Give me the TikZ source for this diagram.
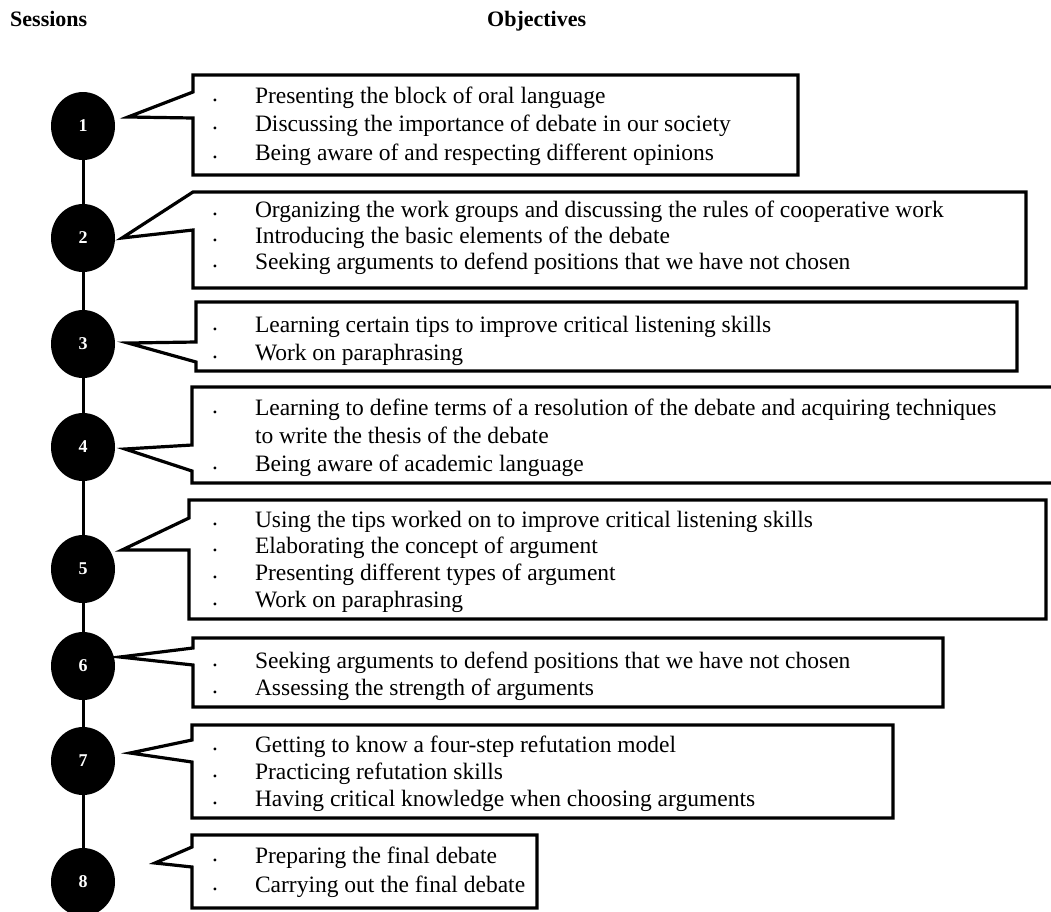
\documentclass[tikz,border=0pt]{standalone}
\usepackage{fontspec}
\setmainfont{Liberation Serif}
\usetikzlibrary{calc, shapes.geometric}

\newcommand{\objsize}[1]{\fontsize{23.5}{#1}\selectfont}
\newcommand{\bul}{\raisebox{2pt}{.}}

\begin{document}
\begin{tikzpicture}[
    x=1pt, y=-1pt,
    session/.style={ellipse, fill=black, minimum width=64pt, minimum height=68pt, inner sep=0pt,
                    text=white, font=\fontsize{18}{18}\selectfont\bfseries},
    objbox/.style={rectangle, anchor=north west, inner sep=0pt, outer sep=0pt},
    objtext/.style={anchor=base west, inner sep=0pt, outer sep=0pt},
    callout/.style={line width=3.2pt, line join=miter},
    link/.style={line width=3pt},
    header/.style={anchor=base west, inner sep=0pt, font=\fontsize{22}{22}\selectfont\bfseries}
]
\useasboundingbox (0,0) rectangle (1051,911);
\clip (0,0) rectangle (1051,911);

\node[header] (hs) at (10,26) {Sessions};
\node[header] (ho) at (487,26) {Objectives};

%% sessions
\node[session] (s1) at (83,126) {1};
\node[session] (s2) at (83,238) {2};
\node[session] (s3) at (83,344) {3};
\node[session] (s4) at (83,447) {4};
\node[session] (s5) at (83,569) {5};
\node[session] (s6) at (83,666) {6};
\node[session] (s7) at (83,761) {7};
\node[session] (s8) at (83,882) {8};
\draw[link] (s1) -- (s2);
\draw[link] (s2) -- (s3);
\draw[link] (s3) -- (s4);
\draw[link] (s4) -- (s5);
\draw[link] (s5) -- (s6);
\draw[link] (s6) -- (s7);
\draw[link] (s7) -- (s8);

%% objective boxes
\node[objbox, minimum width=605pt, minimum height=100pt] (b1) at (193,75) {};
\node[objbox, minimum width=833pt, minimum height=96pt] (b2) at (193,192) {};
\node[objbox, minimum width=821pt, minimum height=69pt] (b3) at (196,302) {};
\node[objbox, minimum width=880pt, minimum height=96pt] (b4) at (192,387) {};
\node[objbox, minimum width=857pt, minimum height=119pt] (b5) at (189,500) {};
\node[objbox, minimum width=750pt, minimum height=69pt] (b6) at (193,638) {};
\node[objbox, minimum width=701pt, minimum height=93pt] (b7) at (192,725) {};
\node[objbox, minimum width=345pt, minimum height=73pt] (b8) at (192,835) {};

\coordinate (p1) at (128,117);
\coordinate (p2) at (122,238);
\coordinate (p3) at (128,343);
\coordinate (p4) at (125,449);
\coordinate (p5) at (122,550);
\coordinate (p6) at (120,657);
\coordinate (p7) at (130,753);
\coordinate (p8) at (155,863);

\draw[callout] (b1.north west) -- (b1.north east) -- (b1.south east) -- (b1.south west)
    -- ($(b1.north west)+(0,43)$) -- (p1) -- ($(b1.north west)+(0,17)$) -- cycle;
\draw[callout] (b2.north west) -- (b2.north east) -- (b2.south east) -- (b2.south west)
    -- ($(b2.north west)+(0,38)$) -- (p2) -- cycle;
\draw[callout] (b3.north west) -- (b3.north east) -- (b3.south east) -- (b3.south west)
    -- ($(b3.north west)+(0,60)$) -- (p3) -- ($(b3.north west)+(0,40)$) -- cycle;
\draw[callout] (b4.north west) -- (b4.north east) -- (b4.south east) -- (b4.south west)
    -- ($(b4.north west)+(0,84)$) -- (p4) -- ($(b4.north west)+(0,58)$) -- cycle;
\draw[callout] (b5.north west) -- (b5.north east) -- (b5.south east) -- (b5.south west)
    -- ($(b5.north west)+(0,50)$) -- (p5) -- ($(b5.north west)+(0,18)$) -- cycle;
\draw[callout] (b6.north west) -- (b6.north east) -- (b6.south east) -- (b6.south west)
    -- ($(b6.north west)+(0,27)$) -- (p6) -- ($(b6.north west)+(0,10)$) -- cycle;
\draw[callout] (b7.north west) -- (b7.north east) -- (b7.south east) -- (b7.south west)
    -- ($(b7.north west)+(0,37)$) -- (p7) -- ($(b7.north west)+(0,15)$) -- cycle;
\draw[callout] (b8.north west) -- (b8.north east) -- (b8.south east) -- (b8.south west)
    -- ($(b8.north west)+(0,32)$) -- (p8) -- ($(b8.north west)+(0,12)$) -- cycle;

%% objectives text
\node[objtext, font=\objsize{28.5}] (t1) at (212,103) {\begin{tabular}[t]{@{}p{43pt}@{}l@{}}
    \bul & Presenting the block of oral language\\
    \bul & Discussing the importance of debate in our society\\
    \bul & Being aware of and respecting different opinions
  \end{tabular}};
\node[objtext, font=\objsize{26}] (t2) at (212,217) {\begin{tabular}[t]{@{}p{43pt}@{}l@{}}
    \bul & Organizing the work groups and discussing the rules of cooperative work\\
    \bul & Introducing the basic elements of the debate\\
    \bul & Seeking arguments to defend positions that we have not chosen
  \end{tabular}};
\node[objtext, font=\objsize{28}] (t3) at (212,332) {\begin{tabular}[t]{@{}p{43pt}@{}l@{}}
    \bul & Learning certain tips to improve critical listening skills\\
    \bul & Work on paraphrasing
  \end{tabular}};
\node[objtext, font=\objsize{28}] (t4) at (212,415) {\begin{tabular}[t]{@{}p{43pt}@{}l@{}}
    \bul & Learning to define terms of a resolution of the debate and acquiring techniques\\
         & to write the thesis of the debate\\
    \bul & Being aware of academic language
  \end{tabular}};
\node[objtext, font=\objsize{26.7}] (t5) at (212,527) {\begin{tabular}[t]{@{}p{43pt}@{}l@{}}
    \bul & Using the tips worked on to improve critical listening skills\\
    \bul & Elaborating the concept of argument\\
    \bul & Presenting different types of argument\\
    \bul & Work on paraphrasing
  \end{tabular}};
\node[objtext, font=\objsize{27}] (t6) at (212,668) {\begin{tabular}[t]{@{}p{43pt}@{}l@{}}
    \bul & Seeking arguments to defend positions that we have not chosen\\
    \bul & Assessing the strength of arguments
  \end{tabular}};
\node[objtext, font=\objsize{27.3}] (t7) at (212,752) {\begin{tabular}[t]{@{}p{43pt}@{}l@{}}
    \bul & Getting to know a four-step refutation model\\
    \bul & Practicing refutation skills\\
    \bul & Having critical knowledge when choosing arguments
  \end{tabular}};
\node[objtext, font=\objsize{29}] (t8) at (212,863) {\begin{tabular}[t]{@{}p{43pt}@{}l@{}}
    \bul & Preparing the final debate\\
    \bul & Carrying out the final debate
  \end{tabular}};
\end{tikzpicture}
\end{document}
